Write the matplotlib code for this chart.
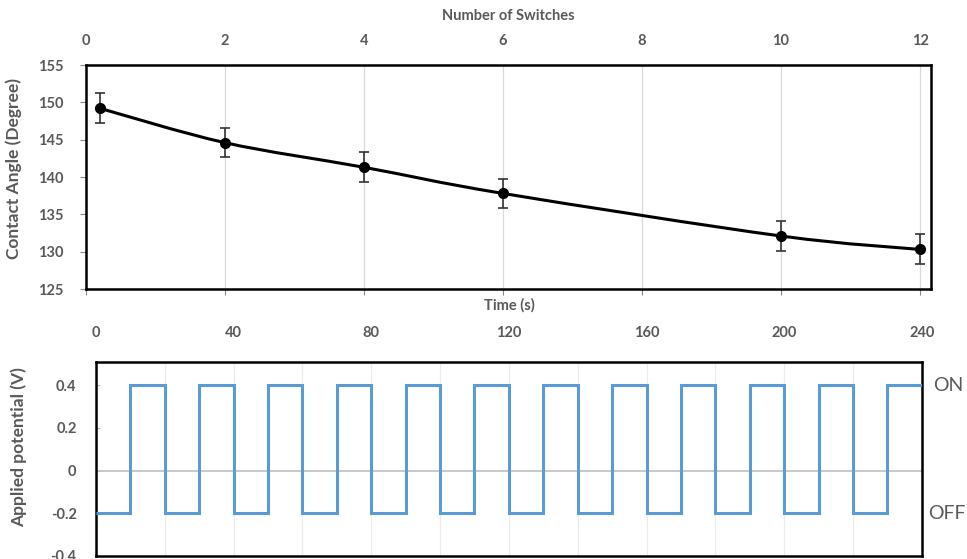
import matplotlib
matplotlib.use("Agg")
import matplotlib.pyplot as plt
from matplotlib.path import Path
from matplotlib.patches import PathPatch
from matplotlib.transforms import blended_transform_factory
import numpy as np

plt.rcParams['font.family'] = ['Lato', 'DejaVu Sans']

# ---------------- data ----------------
switch_number = [0.2, 2, 4, 6, 10, 12]
contact_angle = [149.2, 144.6, 141.3, 137.8, 132.1, 130.3]
angle_error = [2.0, 1.95, 2.0, 1.95, 2.0, 2.0]
switch_ticks = [0, 2, 4, 6, 8, 10, 12]
angle_ticks = [125, 130, 135, 140, 145, 150, 155]

time_edges = [0, 10, 20, 30, 40, 50, 60, 70, 80, 90, 100, 110, 120,
              130, 140, 150, 160, 170, 180, 190, 200, 210, 220, 230, 240]
potential = [-0.2, 0.4, -0.2, 0.4, -0.2, 0.4, -0.2, 0.4, -0.2, 0.4, -0.2, 0.4,
             -0.2, 0.4, -0.2, 0.4, -0.2, 0.4, -0.2, 0.4, -0.2, 0.4, -0.2, 0.4]
time_ticks = [0, 40, 80, 120, 160, 200, 240]
potential_ticks = [-0.4, -0.2, 0, 0.2, 0.4]
potential_labels = ['-0.4', '-0.2', '0', '0.2', '0.4']

TXT = '#595959'
GRID = '#d9d9d9'

fig = plt.figure(figsize=(9.67, 5.59), dpi=100)

# ---------------- top panel ----------------
ax1 = fig.add_axes([0.0889, 0.483, 0.874, 0.4007])
ax1.set_xlim(0, 12.16)
ax1.set_ylim(125, 155)

# smooth (Excel-like) curve through the points
P = np.column_stack([switch_number, contact_angle])
n = len(P)
verts = [tuple(P[0])]
codes = [Path.MOVETO]
for i in range(n - 1):
    p_prev = P[i - 1] if i > 0 else P[i]
    p_next2 = P[i + 2] if i + 2 < n else P[i + 1]
    c1 = P[i] + (P[i + 1] - p_prev) / 6.0
    c2 = P[i + 1] - (p_next2 - P[i]) / 6.0
    verts += [tuple(c1), tuple(c2), tuple(P[i + 1])]
    codes += [Path.CURVE4] * 3
ax1.add_patch(PathPatch(Path(verts, codes), fill=False, edgecolor='black',
                        lw=2.2, zorder=3, capstyle='round'))
ax1.errorbar(switch_number, contact_angle, yerr=angle_error, fmt='o',
             color='black', ecolor='#333333', elinewidth=1.2, capsize=3.5,
             capthick=1.2, markersize=7, zorder=4)

ax1.set_xticks(switch_ticks)
ax1.xaxis.tick_top()
ax1.tick_params(axis='x', which='both', top=False, bottom=True, direction='out',
                length=4, color='#888888', labelsize=10.5, labelcolor=TXT, pad=8,
                labeltop=True, labelbottom=False)
for lbl in ax1.get_xticklabels():
    lbl.set_fontweight('bold')
ax1.set_yticks(angle_ticks)
ax1.tick_params(axis='y', direction='out', length=4, color='#888888',
                labelsize=10.5, labelcolor=TXT, pad=12)
for lbl in ax1.get_yticklabels():
    lbl.set_fontweight('bold')
ax1.grid(axis='x', color=GRID, lw=0.9)
ax1.set_axisbelow(True)
for s in ax1.spines.values():
    s.set_linewidth(1.8)
    s.set_color('black')
ax1.xaxis.set_label_position('top')
ax1.set_xlabel('Number of Switches', fontsize=10.5, fontweight='bold', color=TXT,
               labelpad=10)
ax1.set_ylabel('Contact Angle (Degree)', fontsize=12.5, fontweight='bold', color=TXT)
ax1.yaxis.set_label_coords(-0.0757, 0.54)

# ---------------- bottom panel ----------------
ax2 = fig.add_axes([0.0993, 0.0059, 0.8539, 0.3465])
ax2.set_xlim(0, 240)
ax2.set_ylim(-0.4, 0.51)
ax2.axhline(0, color='#bfbfbf', lw=1.2, zorder=1)
ax2.stairs(potential, time_edges, baseline=None, color='#5b9bd5', lw=2.2, zorder=3)

ax2.set_xticks(time_ticks)
ax2.set_xticks(time_edges[2::4], minor=True)
ax2.xaxis.tick_top()
ax2.tick_params(axis='x', which='both', length=0, labelsize=10.5, labelcolor=TXT,
                pad=16, labeltop=True, labelbottom=False)
for lbl in ax2.get_xticklabels():
    lbl.set_fontweight('bold')
ax2.set_yticks(potential_ticks)
ax2.set_yticklabels(potential_labels)
ax2.tick_params(axis='y', direction='in', length=3, color='#bbbbbb',
                labelsize=10.5, labelcolor=TXT, pad=14)
for lbl in ax2.get_yticklabels():
    lbl.set_fontweight('bold')
ax2.grid(axis='x', which='both', color='#ececec', lw=0.9)
ax2.set_axisbelow(True)
for s in ax2.spines.values():
    s.set_linewidth(1.8)
    s.set_color('black')
ax2.xaxis.set_label_position('top')
ax2.set_xlabel('Time (s)', fontsize=10.5, fontweight='bold', color=TXT, labelpad=12)
ax2.set_ylabel('Applied potential (V)', fontsize=12.5, fontweight='bold', color=TXT)
ax2.yaxis.set_label_coords(-0.0836, 0.56)

tr = blended_transform_factory(ax2.transAxes, ax2.transData)
ax2.text(1.0133, 0.4, 'ON', transform=tr, va='center', ha='left',
         fontsize=14, color=TXT)
ax2.text(1.0076, -0.2, 'OFF', transform=tr, va='center', ha='left',
         fontsize=14, color=TXT)

fig.savefig('out.png', dpi=100)
